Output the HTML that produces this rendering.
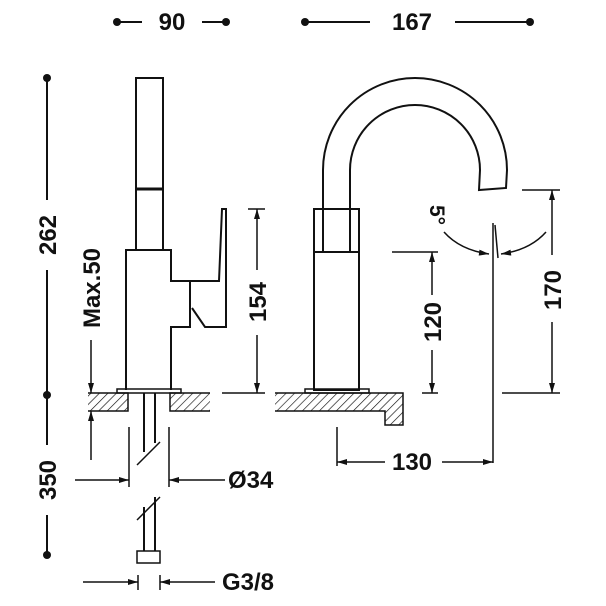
<!DOCTYPE html>
<html><head><style>
html,body{margin:0;padding:0;background:#fff;}
svg{display:block;}
text{font-family:"Liberation Sans",Arial,sans-serif;font-weight:bold;font-size:24px;fill:#111;}
</style></head><body>
<svg width="606" height="606" viewBox="0 0 606 606" xmlns="http://www.w3.org/2000/svg">
<defs>
<pattern id="h" patternUnits="userSpaceOnUse" width="6" height="6" patternTransform="rotate(45)">
<line x1="0" y1="0" x2="0" y2="6" stroke="#111" stroke-width="1.3"/>
</pattern>
<marker id="a" viewBox="0 0 10 6" refX="10" refY="3" markerWidth="12" markerHeight="6" markerUnits="userSpaceOnUse" orient="auto">
<path d="M0,0 L10,3 L0,6 z" fill="#111"/>
</marker>
</defs>
<g stroke="#111" stroke-width="2" fill="none">
<line x1="117" y1="22" x2="142" y2="22"/><line x1="202" y1="22" x2="226" y2="22"/>
<line x1="305" y1="22" x2="370" y2="22"/><line x1="455" y1="22" x2="530" y2="22"/>
<line x1="47" y1="78" x2="47" y2="200"/><line x1="47" y1="270" x2="47" y2="395"/>
<line x1="47" y1="395" x2="47" y2="445"/><line x1="47" y1="515" x2="47" y2="555"/>
<rect x="136" y="78" width="27" height="172"/>
<line x1="136" y1="189" x2="163" y2="189" stroke-width="3"/>
<path d="M126,390 V250 H171 V281 H219 L222,209 H226 V327 H205 L192,308"/>
<path d="M190,281 V327 H171 V390"/>
<rect x="117" y="389" width="64" height="4" stroke-width="1.5"/>
<line x1="144" y1="393" x2="144" y2="452"/><line x1="155" y1="393" x2="155" y2="443"/>
<line x1="137" y1="465" x2="160" y2="442" stroke-width="1.5"/>
<line x1="144" y1="507" x2="144" y2="551"/><line x1="155" y1="497" x2="155" y2="551"/>
<line x1="137" y1="520" x2="160" y2="497" stroke-width="1.5"/>
<rect x="137" y="551" width="23" height="12" stroke-width="1.5"/>
<line x1="129" y1="427" x2="129" y2="487" stroke-width="1.5"/><line x1="169" y1="427" x2="169" y2="487" stroke-width="1.5"/>
<line x1="75" y1="480" x2="129" y2="480" marker-end="url(#a)" stroke-width="1.5"/>
<line x1="225" y1="480" x2="169" y2="480" marker-end="url(#a)" stroke-width="1.5"/>
<line x1="138" y1="575" x2="138" y2="590" stroke-width="1.5"/><line x1="160" y1="575" x2="160" y2="590" stroke-width="1.5"/>
<line x1="83" y1="582" x2="138" y2="582" marker-end="url(#a)" stroke-width="1.5"/>
<line x1="215" y1="582" x2="160" y2="582" marker-end="url(#a)" stroke-width="1.5"/>
<line x1="91" y1="340" x2="91" y2="393" marker-end="url(#a)" stroke-width="1.5"/>
<line x1="91" y1="460" x2="91" y2="411" marker-end="url(#a)" stroke-width="1.5"/>
<line x1="248" y1="209" x2="265" y2="209" stroke-width="1.5"/>
<line x1="222" y1="393" x2="265" y2="393" stroke-width="1.5"/>
<line x1="257" y1="270" x2="257" y2="209" marker-end="url(#a)" stroke-width="1.5"/>
<line x1="257" y1="335" x2="257" y2="393" marker-end="url(#a)" stroke-width="1.5"/>
<rect x="314" y="209" width="45" height="181"/>
<line x1="314" y1="252" x2="359" y2="252"/>
<path d="M323,252 V170 A92,92 0 0 1 507,170 L506,188 L479,190 L480,170 A65,65 0 0 0 350,170 V252"/>
<rect x="305" y="389" width="64" height="4" stroke-width="1.5"/>
<line x1="522" y1="190" x2="560" y2="190" stroke-width="1.5"/>
<line x1="502" y1="393" x2="560" y2="393" stroke-width="1.5"/>
<line x1="552" y1="255" x2="552" y2="190" marker-end="url(#a)" stroke-width="1.5"/>
<line x1="552" y1="322" x2="552" y2="393" marker-end="url(#a)" stroke-width="1.5"/>
<line x1="392" y1="252" x2="438" y2="252" stroke-width="1.5"/>
<line x1="422" y1="393" x2="438" y2="393" stroke-width="1.5"/>
<line x1="432" y1="295" x2="432" y2="252" marker-end="url(#a)" stroke-width="1.5"/>
<line x1="432" y1="350" x2="432" y2="393" marker-end="url(#a)" stroke-width="1.5"/>
<line x1="493" y1="223" x2="493" y2="463" stroke-width="1.5"/>
<line x1="495" y1="225" x2="498" y2="258" stroke-width="1.5"/>
<path d="M444,232 Q460,250 489,254" marker-end="url(#a)" stroke-width="1.5"/>
<path d="M546,232 Q530,250 501,254" marker-end="url(#a)" stroke-width="1.5"/>
<line x1="337" y1="427" x2="337" y2="466" stroke-width="1.5"/>
<line x1="385" y1="462" x2="337" y2="462" marker-end="url(#a)" stroke-width="1.5"/>
<line x1="442" y1="462" x2="493" y2="462" marker-end="url(#a)" stroke-width="1.5"/>
</g>
<g stroke="#111" stroke-width="1.5" fill="url(#h)">
<path d="M88,393 H128 V411 H88"/>
<path d="M210,393 H170 V411 H210"/>
<path d="M275,393 H403 V425 H385 V411 H275"/>
</g>
<g fill="#111">
<circle cx="117" cy="22" r="4"/><circle cx="226" cy="22" r="4"/>
<circle cx="305" cy="22" r="4"/><circle cx="530" cy="22" r="4"/>
<circle cx="47" cy="78" r="4"/><circle cx="47" cy="395" r="4"/><circle cx="47" cy="555" r="4"/>
</g>
<text x="172" y="30" text-anchor="middle">90</text>
<text x="412" y="30" text-anchor="middle">167</text>
<text x="228" y="488">Ø34</text>
<text x="222" y="590">G3/8</text>
<text x="412" y="470" text-anchor="middle">130</text>
<text transform="translate(56,235) rotate(-90)" text-anchor="middle">262</text>
<text transform="translate(56,480) rotate(-90)" text-anchor="middle">350</text>
<text transform="translate(100,288) rotate(-90)" text-anchor="middle">Max.50</text>
<text transform="translate(266,302) rotate(-90)" text-anchor="middle">154</text>
<text transform="translate(441,322) rotate(-90)" text-anchor="middle">120</text>
<text transform="translate(561,290) rotate(-90)" text-anchor="middle">170</text>
<text transform="translate(430,215) rotate(90)" text-anchor="middle" style="font-size:21px">5°</text>
</svg>
</body></html>
